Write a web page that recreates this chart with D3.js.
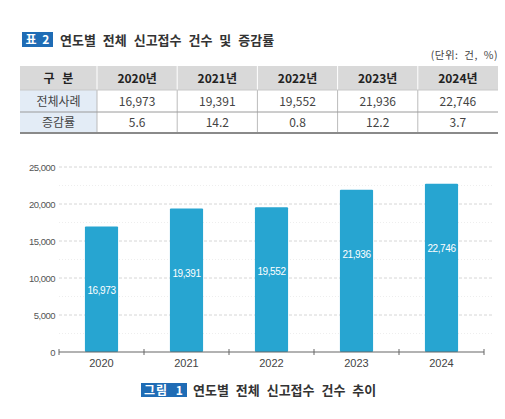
<!DOCTYPE html>
<html>
<head>
<meta charset="utf-8">
<script src="https://cdn.jsdelivr.net/npm/d3@7"></script>
<style>
  body { margin: 0; background: #fff; }
  text { font-family: "Noto Sans CJK KR", "Liberation Sans", sans-serif; }
</style>
</head>
<body>
<div id="chart"></div>
<script>
var years = ["2020", "2021", "2022", "2023", "2024"];
var counts = [16973, 19391, 19552, 21936, 22746];
var rates = ["5.6", "14.2", "0.8", "12.2", "3.7"];
var rowLabels = ["전체사례", "증감률"];
var yTicks = [0, 5000, 10000, 15000, 20000, 25000];

var W = 505, H = 419;
var svg = d3.select("#chart").append("svg").attr("width", W).attr("height", H);
var fmt = d3.format(",");

// table title
svg.append("rect").attr("x", 22).attr("y", 32).attr("width", 31).attr("height", 15).attr("fill", "#1f6cb5");
svg.append("text").attr("x", 37.5).attr("y", 44).attr("text-anchor", "middle").attr("fill", "#fff")
  .style("font-size", "12px").style("font-weight", "bold").style("word-spacing", "3px").text("표 2");
svg.append("text").attr("x", 60).attr("y", 45).attr("fill", "#333")
  .style("font-size", "13px").style("font-weight", "bold").style("word-spacing", "4px")
  .text("연도별 전체 신고접수 건수 및 증감률");
svg.append("text").attr("x", 498).attr("y", 59).attr("text-anchor", "end").attr("fill", "#444")
  .style("font-size", "10.5px").style("letter-spacing", "0.5px").style("word-spacing", "3px").text("(단위: 건, %)");

// table
var colX = d3.scaleBand().domain(years).range([97, 498]);
var rowY = [66, 90, 112, 133];
var table = svg.append("g");
table.append("rect").attr("x", 20).attr("y", rowY[0]).attr("width", 478).attr("height", rowY[1] - rowY[0]).attr("fill", "#d9d9d9");
table.append("rect").attr("x", 20).attr("y", rowY[1]).attr("width", 77).attr("height", rowY[3] - rowY[1]).attr("fill", "#e3ecf6");
// separators
years.forEach(function(y) {
  table.append("line").attr("x1", colX(y)).attr("x2", colX(y)).attr("y1", rowY[0]).attr("y2", rowY[1])
    .attr("stroke", "#fff").attr("stroke-width", 1);
  table.append("line").attr("x1", colX(y)).attr("x2", colX(y)).attr("y1", rowY[1]).attr("y2", rowY[3])
    .attr("stroke", "#bbb").attr("stroke-width", 1);
});
table.append("line").attr("x1", 20).attr("x2", 498).attr("y1", rowY[1]).attr("y2", rowY[1]).attr("stroke", "#c8c8c8");
table.append("line").attr("x1", 20).attr("x2", 498).attr("y1", rowY[2]).attr("y2", rowY[2]).attr("stroke", "#9a9a9a");
table.append("line").attr("x1", 20).attr("x2", 498).attr("y1", rowY[3]).attr("y2", rowY[3]).attr("stroke", "#8a8a8a").attr("stroke-width", 2);

function cell(x, yTop, yBot, txt, bold) {
  return table.append("text").attr("x", x).attr("y", (yTop + yBot) / 2 + 4.5).attr("text-anchor", "middle")
    .attr("fill", bold ? "#222" : "#444").style("font-size", "12px").style("font-weight", bold ? "bold" : "normal")
    .text(txt);
}
cell(58.5, rowY[0], rowY[1], "구 분", true).style("word-spacing", "5px");
cell(58.5, rowY[1], rowY[2], rowLabels[0], false);
cell(58.5, rowY[2], rowY[3], rowLabels[1], false);
years.forEach(function(y, i) {
  var cx = colX(y) + colX.bandwidth() / 2;
  cell(cx, rowY[0], rowY[1], y + "년", true);
  cell(cx, rowY[1], rowY[2], fmt(counts[i]), false);
  cell(cx, rowY[2], rowY[3], rates[i], false);
});

// bar chart
var x = d3.scaleBand().domain(years).range([59, 484]).paddingInner(0.61).paddingOuter(0.305);
var y = d3.scaleLinear().domain([0, 25000]).range([352, 167]);

var grid = svg.append("g");
grid.selectAll("line.minor").data(d3.range(2500, 25000, 5000)).enter().append("line")
  .attr("x1", 59).attr("x2", 492).attr("y1", function(d) { return y(d); }).attr("y2", function(d) { return y(d); })
  .attr("stroke", "#eee").attr("stroke-dasharray", "1,2");
grid.selectAll("line.major").data(yTicks.slice(1)).enter().append("line")
  .attr("x1", 59).attr("x2", 492).attr("y1", function(d) { return y(d); }).attr("y2", function(d) { return y(d); })
  .attr("stroke", "#d6d6d6").attr("stroke-dasharray", "3,2");

svg.append("g").selectAll("text").data(yTicks).enter().append("text")
  .attr("x", 55).attr("y", function(d) { return y(d) + 3.5; }).attr("text-anchor", "end")
  .attr("fill", "#555").style("font-family", "Liberation Sans, sans-serif")
  .style("font-size", "9.5px").style("letter-spacing", "-0.5px").text(function(d) { return fmt(d); });

svg.append("g").selectAll("rect").data(counts).enter().append("rect")
  .attr("x", function(d, i) { return x(years[i]); })
  .attr("y", function(d) { return y(d); })
  .attr("width", x.bandwidth())
  .attr("height", function(d) { return y(0) - y(d); })
  .attr("rx", 1).attr("fill", "#27a5d1");

svg.append("g").selectAll("text").data(counts).enter().append("text")
  .attr("x", function(d, i) { return x(years[i]) + x.bandwidth() / 2; })
  .attr("y", function(d) { return y(d) + 68; })
  .attr("text-anchor", "middle").attr("fill", "#fff")
  .style("font-family", "Liberation Sans, sans-serif")
  .style("font-size", "10px").style("letter-spacing", "-0.4px")
  .text(function(d) { return fmt(d); });

// x axis
var xAxis = svg.append("g").attr("transform", "translate(0,352)");
xAxis.append("line").attr("x1", 59).attr("x2", 484).attr("stroke", "#666").attr("stroke-width", 1.2);
var edges = d3.range(years.length + 1).map(function(i) { return 59 + i * x.step(); });
xAxis.selectAll("line.tick").data(edges).enter().append("line")
  .attr("x1", function(d) { return d; }).attr("x2", function(d) { return d; })
  .attr("y1", -3).attr("y2", 3).attr("stroke", "#666");
xAxis.selectAll("text").data(years).enter().append("text")
  .attr("x", function(d) { return x(d) + x.bandwidth() / 2; }).attr("y", 15)
  .attr("text-anchor", "middle").attr("fill", "#444")
  .style("font-family", "Liberation Sans, sans-serif").style("font-size", "11px").text(function(d) { return d; });

// caption
svg.append("rect").attr("x", 141).attr("y", 383).attr("width", 46).attr("height", 14).attr("fill", "#1f6cb5");
svg.append("text").attr("x", 164).attr("y", 394.5).attr("text-anchor", "middle").attr("fill", "#fff")
  .style("font-size", "12px").style("font-weight", "bold").style("letter-spacing", "1px").style("word-spacing", "4px").text("그림 1");
svg.append("text").attr("x", 193).attr("y", 395).attr("fill", "#333")
  .style("font-size", "13px").style("font-weight", "bold").style("word-spacing", "4px")
  .text("연도별 전체 신고접수 건수 추이");
</script>
</body>
</html>
